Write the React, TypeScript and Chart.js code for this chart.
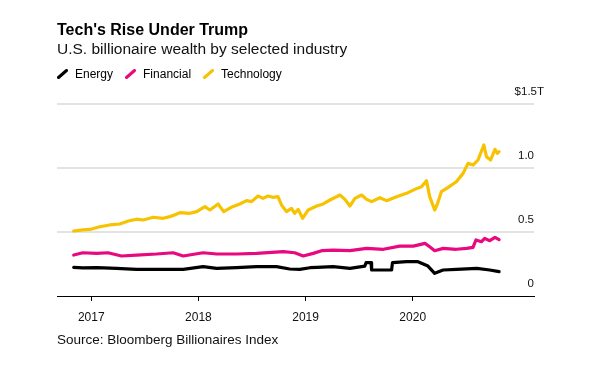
import { useEffect, useRef } from 'react';
import { Chart, registerables } from 'chart.js';

Chart.register(...registerables);

const FONT = '"Liberation Sans", Arial, Helvetica, sans-serif';

const TITLE = "Tech's Rise Under Trump";
const SUBTITLE = 'U.S. billionaire wealth by selected industry';
const SOURCE = 'Source: Bloomberg Billionaires Index';

const seriesNames = ['Energy', 'Financial', 'Technology'];
const seriesColors = ['#000000', '#e8097f', '#f7c200'];

const xTickYears = [2017, 2018, 2019, 2020];
const X_MIN = 2016.68;
const X_MAX = 2021.132;

const yTickValues = [0, 0.5, 1, 1.5];
const yTickLabels = ['0', '0.5', '1.0', '1.5'];
const yTopPrefix = '$';
const yTopSuffix = 'T';

const energyDates = [
  '2016-11-02', '2016-12-03', '2017-01-20', '2017-03-28', '2017-06-04', '2017-08-22',
  '2017-11-10', '2018-01-17', '2018-03-04', '2018-05-11', '2018-07-18', '2018-09-24',
  '2018-11-08', '2018-12-12', '2019-01-16', '2019-02-08', '2019-04-05', '2019-06-01',
  '2019-07-22', '2019-07-26', '2019-08-12', '2019-08-14', '2019-10-21', '2019-10-24',
  '2019-12-11', '2020-01-19', '2020-02-22', '2020-03-16', '2020-04-14', '2020-05-29',
  '2020-08-07', '2020-09-20', '2020-10-22',
];
const energyValues = [
  0.224, 0.22, 0.222, 0.216, 0.208, 0.208,
  0.208, 0.229, 0.216, 0.221, 0.229, 0.229,
  0.211, 0.208, 0.221, 0.224, 0.229, 0.216,
  0.234, 0.26, 0.26, 0.203, 0.203, 0.26,
  0.268, 0.268, 0.234, 0.177, 0.203, 0.208,
  0.216, 0.203, 0.19,
];

const finDates = [
  '2016-11-02', '2016-12-03', '2017-01-19', '2017-02-27', '2017-04-14', '2017-06-04',
  '2017-08-11', '2017-10-07', '2017-11-10', '2018-01-17', '2018-03-04', '2018-05-11',
  '2018-07-18', '2018-10-17', '2018-11-25', '2018-12-24', '2019-01-27', '2019-02-25',
  '2019-04-05', '2019-06-01', '2019-07-28', '2019-09-23', '2019-11-18', '2020-01-03',
  '2020-02-12', '2020-02-28', '2020-03-16', '2020-04-14', '2020-05-29', '2020-07-03',
  '2020-07-25', '2020-08-04', '2020-08-23', '2020-09-03', '2020-09-20', '2020-10-08',
  '2020-10-22',
];
const finValues = [
  0.32, 0.338, 0.333, 0.338, 0.3125, 0.32,
  0.328, 0.338, 0.3125, 0.338, 0.328, 0.328,
  0.333, 0.346, 0.338, 0.3125, 0.333, 0.354,
  0.359, 0.354, 0.372, 0.365, 0.39, 0.39,
  0.411, 0.385, 0.354, 0.372, 0.365, 0.372,
  0.38, 0.4375, 0.424, 0.45, 0.432, 0.458,
  0.44,
];

const techDates = [
  '2016-11-02', '2016-12-03', '2016-12-27', '2017-01-30', '2017-03-05', '2017-04-08',
  '2017-05-07', '2017-06-04', '2017-06-27', '2017-07-31', '2017-09-03', '2017-09-26',
  '2017-10-30', '2017-12-03', '2017-12-26', '2018-01-23', '2018-02-09', '2018-03-09',
  '2018-03-28', '2018-04-23', '2018-05-22', '2018-06-14', '2018-07-01', '2018-07-23',
  '2018-08-09', '2018-08-26', '2018-09-12', '2018-09-29', '2018-10-11', '2018-10-28',
  '2018-11-14', '2018-11-25', '2018-12-07', '2018-12-22', '2019-01-10', '2019-02-08',
  '2019-03-02', '2019-03-25', '2019-04-28', '2019-05-15', '2019-06-01', '2019-06-18',
  '2019-07-11', '2019-07-28', '2019-08-14', '2019-09-11', '2019-10-04', '2019-11-07',
  '2019-12-11', '2020-01-08', '2020-01-31', '2020-02-17', '2020-02-28', '2020-03-16',
  '2020-03-26', '2020-04-08', '2020-05-01', '2020-05-29', '2020-06-21', '2020-07-08',
  '2020-07-25', '2020-08-11', '2020-08-31', '2020-09-09', '2020-09-23', '2020-10-08',
  '2020-10-16', '2020-10-22',
];
const techValues = [
  0.508, 0.516, 0.52, 0.541, 0.555, 0.5625,
  0.586, 0.6, 0.594, 0.615, 0.607, 0.62,
  0.651, 0.646, 0.659, 0.698, 0.672, 0.719,
  0.659, 0.693, 0.719, 0.745, 0.737, 0.781,
  0.763, 0.781, 0.771, 0.776, 0.711, 0.659,
  0.685, 0.646, 0.677, 0.607, 0.672, 0.703,
  0.719, 0.75, 0.789, 0.755, 0.703, 0.763,
  0.789, 0.755, 0.737, 0.768, 0.745, 0.776,
  0.802, 0.833, 0.854, 0.901, 0.776, 0.672,
  0.724, 0.815, 0.849, 0.893, 0.958, 1.036,
  1.023, 1.0625, 1.18, 1.088, 1.0625, 1.146,
  1.115, 1.128,
];

function toYear(d: string): number {
  const [y, m, dd] = d.split('-').map(Number);
  const start = Date.UTC(y, 0, 1);
  const end = Date.UTC(y + 1, 0, 1);
  return y + (Date.UTC(y, m - 1, dd) - start) / (end - start);
}

function toPoints(dates: string[], values: number[]) {
  return dates.map((d, i) => ({ x: toYear(d), y: values[i] }));
}

const yLabelPlugin = {
  id: 'yLabels',
  afterDraw(chart: any) {
    const { ctx, chartArea, scales } = chart;
    const y = scales.y;
    ctx.save();
    ctx.font = `11.5px ${FONT}`;
    ctx.fillStyle = '#111';
    ctx.textBaseline = 'alphabetic';
    yTickValues.forEach((v, i) => {
      const py = y.getPixelForValue(v) - 9;
      const label = yTickLabels[i];
      const isTop = i === yTickValues.length - 1;
      const right = chartArea.right + (isTop ? 3 : 0);
      ctx.textAlign = 'right';
      ctx.fillText(label, right, py);
      if (isTop) {
        const w = ctx.measureText(label).width;
        ctx.fillText(yTopPrefix, right - w, py);
        ctx.textAlign = 'left';
        ctx.fillText(yTopSuffix, right, py);
      }
    });
    ctx.restore();
  },
};

function LegendMark({ color }: { color: string }) {
  return (
    <svg width={11} height={10} style={{ display: 'block' }}>
      <line x1={1.5} y1={8.5} x2={9.5} y2={1.5} stroke={color} strokeWidth={3} strokeLinecap="round" />
    </svg>
  );
}

export default function App() {
  const ref = useRef<HTMLCanvasElement>(null);

  useEffect(() => {
    const seriesData = [
      toPoints(energyDates, energyValues),
      toPoints(finDates, finValues),
      toPoints(techDates, techValues),
    ];
    const chart = new Chart(ref.current as HTMLCanvasElement, {
      type: 'line',
      data: {
        datasets: seriesNames.map((name, i) => ({
          label: name,
          data: seriesData[i],
          borderColor: seriesColors[i],
          backgroundColor: seriesColors[i],
          borderWidth: 3.2,
          pointRadius: 0,
          tension: 0,
          fill: false,
          borderJoinStyle: 'round' as const,
          borderCapStyle: 'round' as const,
        })),
      },
      options: {
        responsive: false,
        animation: false,
        devicePixelRatio: 1,
        layout: { padding: { left: 57, right: 63, top: 104, bottom: 56 } },
        plugins: {
          legend: { display: false },
          tooltip: { enabled: false },
          title: { display: false },
        },
        scales: {
          x: {
            type: 'linear',
            min: X_MIN,
            max: X_MAX,
            afterBuildTicks: (s: any) => {
              s.ticks = xTickYears.map((v) => ({ value: v }));
            },
            afterFit: (s: any) => {
              s.height = 28;
            },
            grid: { drawOnChartArea: false, drawTicks: true, tickLength: 5, color: '#000', lineWidth: 1 },
            border: { display: true, color: '#000', width: 1 },
            ticks: {
              autoSkip: false,
              maxRotation: 0,
              padding: 9,
              color: '#111',
              font: { family: FONT, size: 12 },
              callback: (v: any) => String(v),
            },
          },
          y: {
            type: 'linear',
            position: 'right',
            min: 0,
            max: 1.5,
            afterBuildTicks: (s: any) => {
              s.ticks = yTickValues.map((v) => ({ value: v }));
            },
            afterFit: (s: any) => {
              s.width = 0;
            },
            grid: {
              drawTicks: false,
              lineWidth: 2,
              color: (c: any) => (c.tick && c.tick.value === 0 ? 'rgba(0,0,0,0)' : '#e3e3e3'),
            },
            border: { display: false },
            ticks: { display: false },
          },
        },
      },
      plugins: [yLabelPlugin],
    } as any);
    return () => chart.destroy();
  }, []);

  return (
    <div style={{ position: 'relative', width: 597, height: 380, fontFamily: FONT, color: '#000', overflow: 'hidden', background: '#fff' }}>
      <style>{'body{margin:0}'}</style>
      <canvas ref={ref} width={597} height={380} style={{ position: 'absolute', left: 0, top: 0 }} />
      <div style={{ position: 'absolute', left: 57, top: 21.5, fontSize: 16, fontWeight: 700, lineHeight: '16px', whiteSpace: 'nowrap' }}>
        {TITLE}
      </div>
      <div style={{ position: 'absolute', left: 57, top: 41, fontSize: 15.5, lineHeight: '15.5px', whiteSpace: 'nowrap', color: '#111' }}>
        {SUBTITLE}
      </div>
      <div style={{ position: 'absolute', left: 57, top: 68, height: 12, display: 'flex', alignItems: 'center', fontSize: 12, lineHeight: '12px', whiteSpace: 'nowrap' }}>
        {seriesNames.map((name, i) => (
          <div key={name} style={{ display: 'flex', alignItems: 'center', marginRight: 12 }}>
            <LegendMark color={seriesColors[i]} />
            <span style={{ marginLeft: 7 }}>{name}</span>
          </div>
        ))}
      </div>
      <div style={{ position: 'absolute', left: 57, top: 332.6, fontSize: 13.5, lineHeight: '13.5px', whiteSpace: 'nowrap', color: '#111' }}>
        {SOURCE}
      </div>
    </div>
  );
}
